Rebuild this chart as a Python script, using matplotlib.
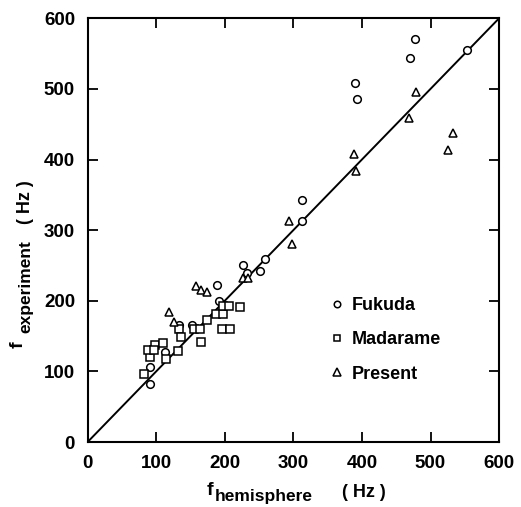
import numpy as np
import matplotlib
matplotlib.use("Agg")
import matplotlib.pyplot as plt

# Fukuda
fukuda_x = [91, 91, 113, 133, 153, 189, 192, 226, 233, 251, 259, 313, 313, 390, 393, 470, 477, 553]
fukuda_y = [82, 106, 128, 166, 166, 223, 200, 251, 240, 242, 259, 343, 313, 509, 486, 544, 571, 555]
# Madarame
madarame_x = [82, 91, 88, 98, 97, 110, 114, 132, 133, 136, 155, 164, 165, 174, 188, 198, 198, 206, 222, 196, 207]
madarame_y = [96, 121, 131, 137, 130, 140, 118, 129, 160, 149, 160, 160, 141, 173, 182, 182, 192, 192, 191, 160, 160]
# Present
present_x = [119, 126, 158, 165, 174, 226, 234, 293, 298, 389, 392, 468, 479, 525, 533]
present_y = [184, 170, 221, 215, 213, 232, 232, 313, 281, 408, 384, 459, 495, 414, 438]

plt.rcParams['font.family'] = ['Liberation Sans', 'DejaVu Sans']
plt.rcParams['font.weight'] = 'bold'

W, H = 521, 507
fig = plt.figure(figsize=(W / 100, H / 100), dpi=100)
ax = fig.add_axes([0.168, 0.128, 0.79, 0.836])

ax.plot([0, 600], [0, 600], color='black', lw=1.4)
mk = dict(linestyle='none', markerfacecolor='white', markeredgecolor='black', markeredgewidth=1.1)
ax.plot(fukuda_x, fukuda_y, marker='o', markersize=5.5, label='Fukuda', **mk)
ax.plot(madarame_x, madarame_y, marker='s', markersize=5.5, label='Madarame', **mk)
ax.plot(present_x, present_y, marker='^', markersize=6, label='Present', **mk)

ax.set_xlim(0, 600)
ax.set_ylim(0, 600)
ax.set_xticks(range(0, 601, 100))
ax.set_yticks(range(0, 601, 100))
ax.tick_params(direction='in', length=7, width=1.3, top=True, right=True, labelsize=13.5, pad=9)
for s in ax.spines.values():
    s.set_linewidth(1.5)

ax.legend(loc='upper left', bbox_to_anchor=(0.55, 0.38), frameon=False, fontsize=13,
          handlelength=0.8, handletextpad=0.4, labelspacing=0.95, markerscale=0.85)

# x label
fig.text(207 / W, 1 - 495 / H, 'f', fontsize=14)
fig.text(215 / W, 1 - 501 / H, 'hemisphere', fontsize=12.5)
fig.text(342 / W, 1 - 497 / H, '( Hz )', fontsize=13)
# y label
fig.text(27 / W, 1 - 348 / H, 'f', fontsize=14, rotation=90, ha='right', va='bottom')
fig.text(33 / W, 1 - 333 / H, 'experiment', fontsize=12.5, rotation=90, ha='right', va='bottom')
fig.text(34 / W, 1 - 224 / H, '( Hz )', fontsize=13, rotation=90, ha='right', va='bottom')

fig.savefig('out.png', dpi=100)
